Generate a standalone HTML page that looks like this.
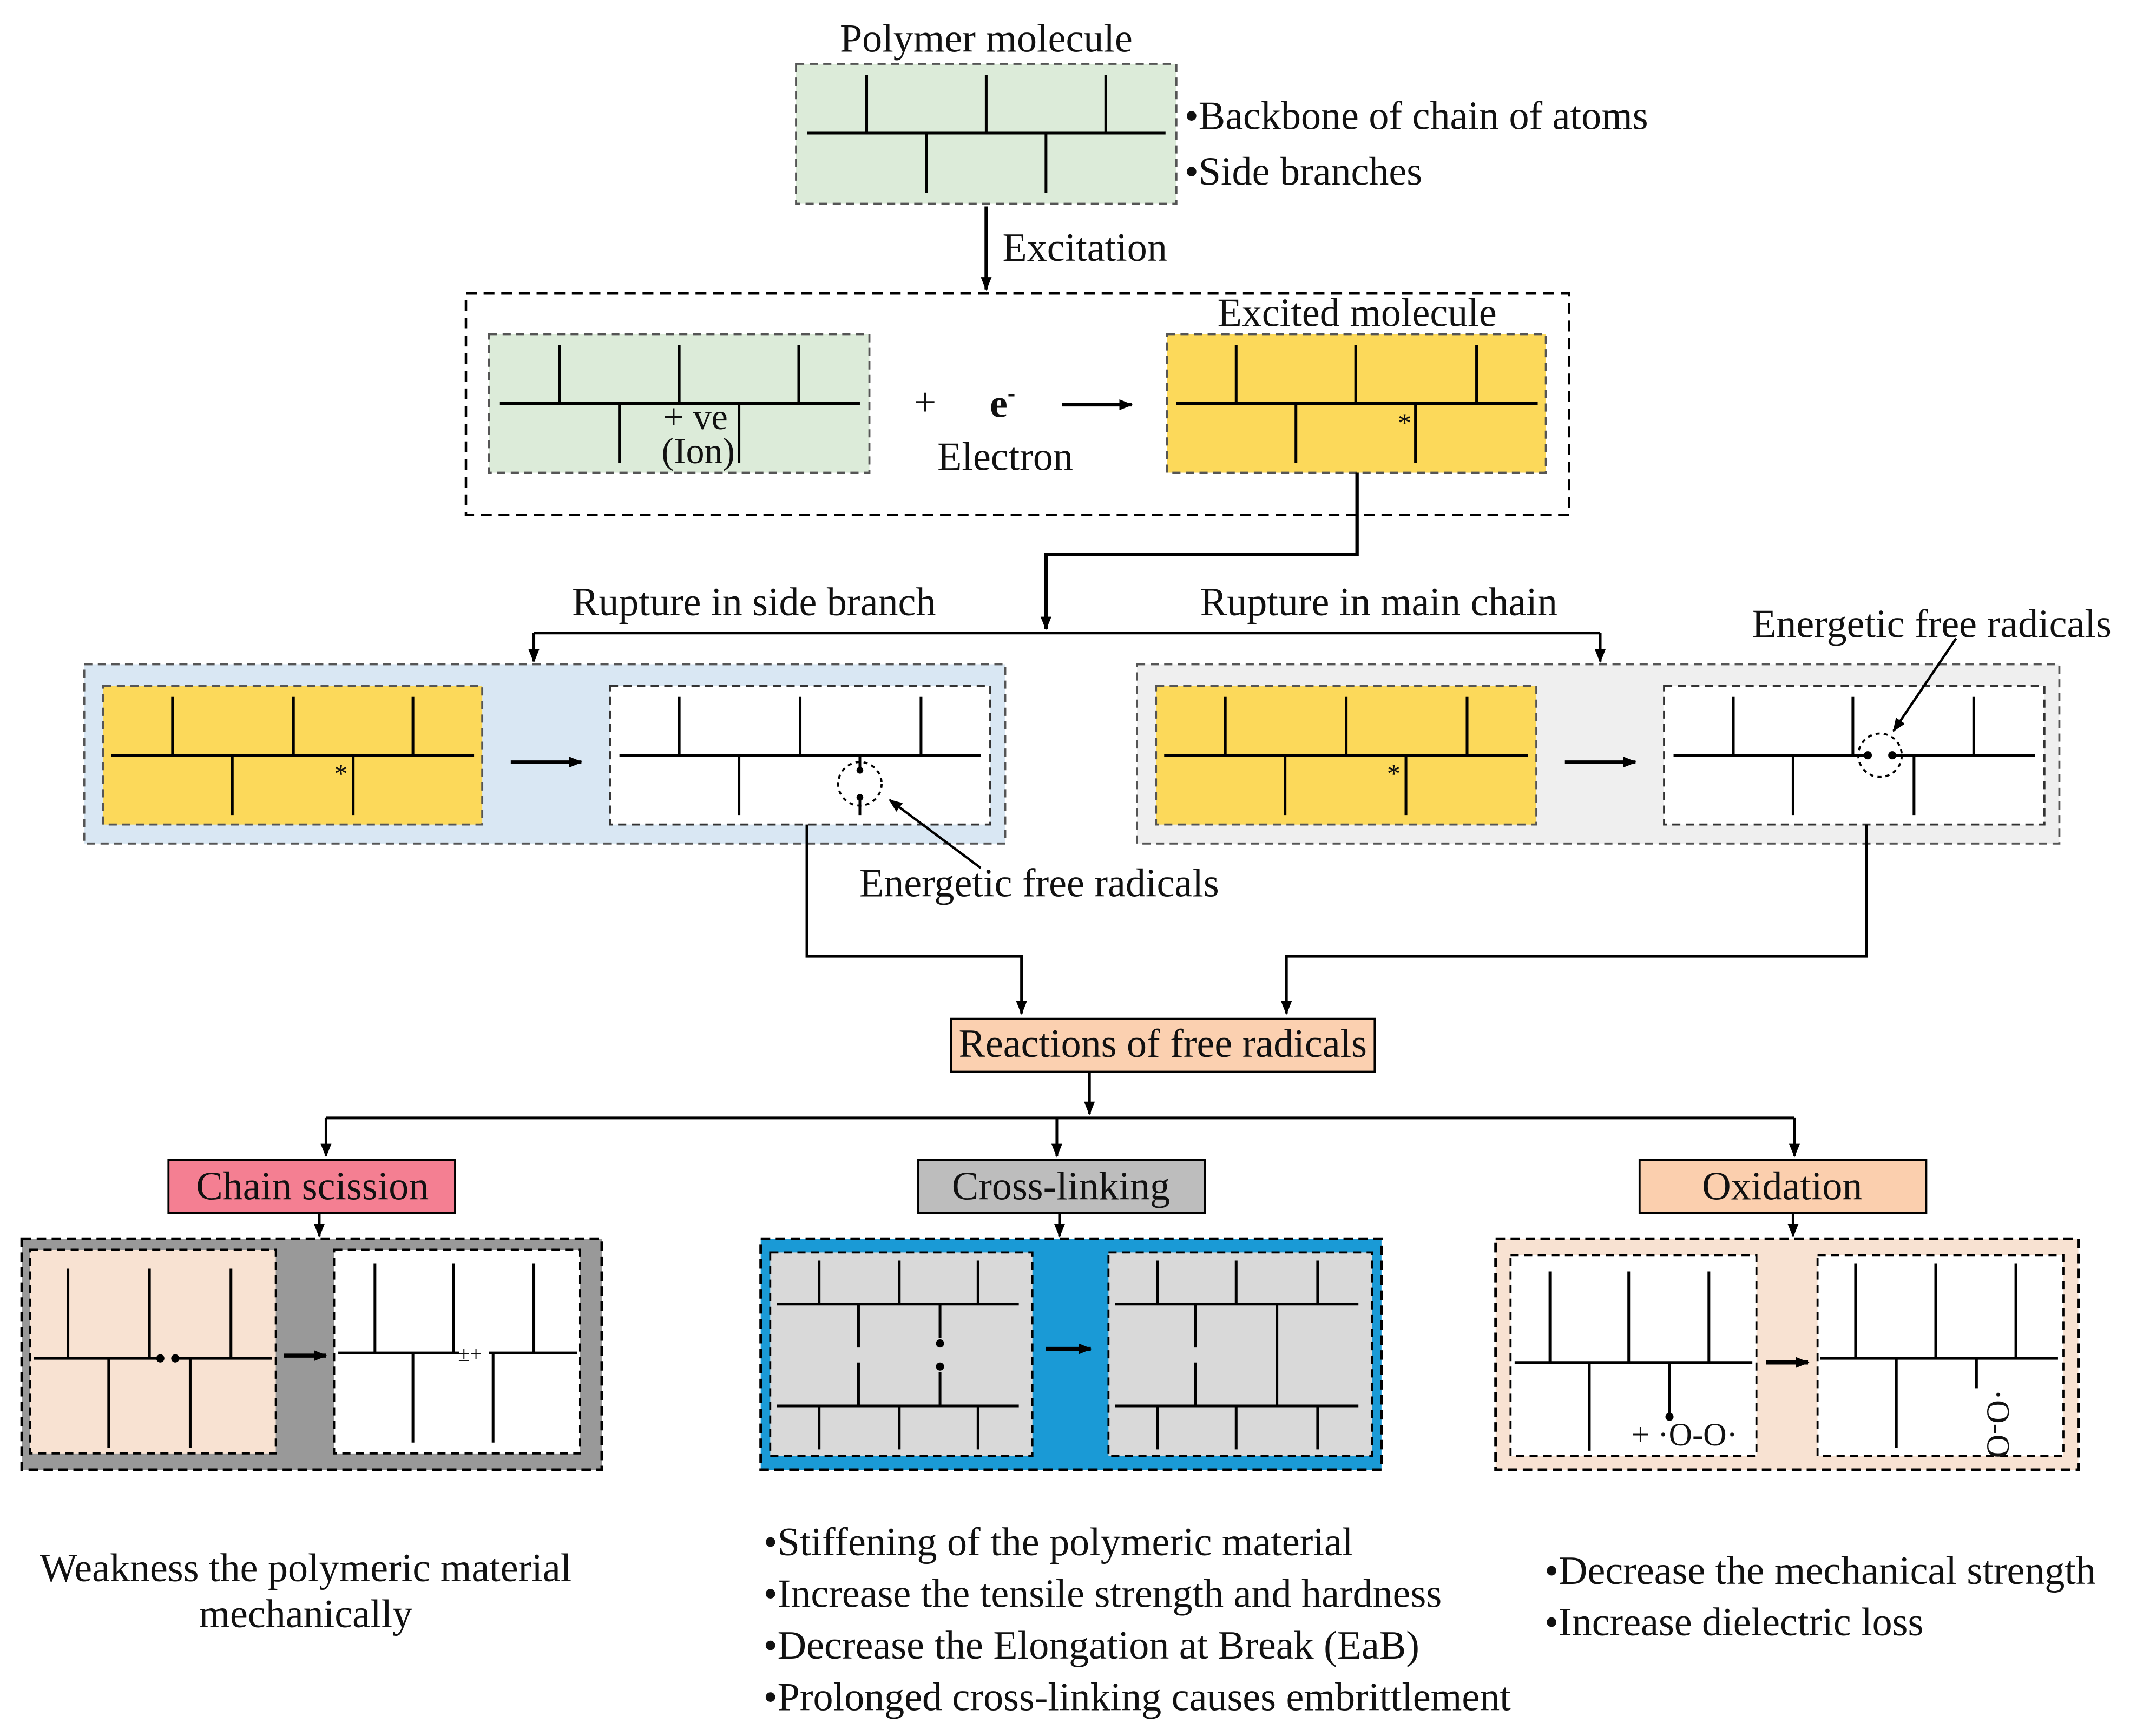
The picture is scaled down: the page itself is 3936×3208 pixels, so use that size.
<!DOCTYPE html>
<html><head><meta charset="utf-8"><style>
html,body{margin:0;padding:0;background:#fff}
svg{display:block}
text{font-family:"Liberation Serif",serif;fill:#111}
</style></head><body>
<svg width="3936" height="3208" viewBox="0 0 1568 1278" xmlns="http://www.w3.org/2000/svg">
<defs>
<marker id="ah" markerWidth="10" markerHeight="10" refX="9" refY="5" orient="auto" markerUnits="userSpaceOnUse">
<path d="M0,1 L10,5 L0,9 Z" fill="#000"/></marker>
</defs>
<rect width="1568" height="1278" fill="#fff"/>
<g stroke="#000" stroke-width="2" fill="none">
<rect x="586" y="47" width="280" height="103" fill="#dcebd9" stroke="#555" stroke-dasharray="6,4" stroke-width="1.5"/>
<path d="M594 98H858 M638 55V98 M726 55V98 M814 55V98 M682 98V142 M770 98V142"/>
<line x1="726" y1="152" x2="726" y2="213" marker-end="url(#ah)" stroke-width="2.5"/>
<rect x="343" y="216" width="812" height="163" stroke-dasharray="8,5" stroke-width="1.8"/>
<rect x="360" y="246" width="280" height="102" fill="#dcebd9" stroke="#555" stroke-dasharray="6,4" stroke-width="1.5"/>
<path d="M368 297H633 M412 254V297 M500 254V297 M588 254V297 M456 297V341 M544 297V341"/>
<line x1="782" y1="298" x2="833" y2="298" marker-end="url(#ah)" stroke-width="2.5"/>
<rect x="859" y="246" width="279" height="102" fill="#fcd95a" stroke="#555" stroke-dasharray="6,4" stroke-width="1.5"/>
<path d="M866 297H1132 M910 254V297 M998 254V297 M1087 254V297 M954 297V341 M1042 297V341"/>
<path d="M999 348V408H770V463" marker-end="url(#ah)" stroke-width="2.5"/>
<path d="M393 466H1178"/>
<line x1="393" y1="466" x2="393" y2="487" marker-end="url(#ah)"/>
<line x1="1178" y1="466" x2="1178" y2="487" marker-end="url(#ah)"/>
<rect x="62" y="489" width="678" height="132" fill="#d9e7f3" stroke="#555" stroke-dasharray="6,4" stroke-width="1.5"/>
<rect x="76" y="505" width="279" height="102" fill="#fcd95a" stroke="#555" stroke-dasharray="6,4" stroke-width="1.5"/>
<path d="M82 556H349 M127 513V556 M216 513V556 M304 513V556 M171 556V600 M260 556V600"/>
<line x1="376" y1="561" x2="428" y2="561" marker-end="url(#ah)" stroke-width="2.5"/>
<rect x="449" y="505" width="280" height="102" fill="#fff" stroke="#333" stroke-dasharray="6,4" stroke-width="1.5"/>
<path d="M456 556H722 M500 513V556 M589 513V556 M678 513V556 M544 556V600 M633 556V567 M633 587V600"/>
<circle cx="633" cy="577" r="16" stroke-dasharray="3,3" stroke-width="1.5"/>
<line x1="722" y1="639" x2="655" y2="589" marker-end="url(#ah)" stroke-width="1.8"/>
<rect x="837" y="489" width="679" height="132" fill="#efefef" stroke="#555" stroke-dasharray="6,4" stroke-width="1.5"/>
<rect x="851" y="505" width="280" height="102" fill="#fcd95a" stroke="#555" stroke-dasharray="6,4" stroke-width="1.5"/>
<path d="M857 556H1125 M902 513V556 M991 513V556 M1080 513V556 M946 556V600 M1035 556V600"/>
<line x1="1152" y1="561" x2="1204" y2="561" marker-end="url(#ah)" stroke-width="2.5"/>
<rect x="1225" y="505" width="280" height="102" fill="#fff" stroke="#333" stroke-dasharray="6,4" stroke-width="1.5"/>
<path d="M1232 556H1375 M1393 556H1498 M1276 513V556 M1364 513V556 M1453 513V556 M1320 556V600 M1409 556V600"/>
<circle cx="1384" cy="556" r="16" stroke-dasharray="3,3" stroke-width="1.5"/>
<line x1="1440" y1="470" x2="1394" y2="538" marker-end="url(#ah)" stroke-width="1.8"/>
<path d="M594 607V704H752V746" marker-end="url(#ah)"/>
<path d="M1374 607V704H947V746" marker-end="url(#ah)"/>
<rect x="700" y="750" width="312" height="39" fill="#fbd0b0" stroke-width="1.5"/>
<line x1="802" y1="789" x2="802" y2="820" marker-end="url(#ah)"/>
<path d="M240 823H1321"/>
<line x1="240" y1="823" x2="240" y2="851" marker-end="url(#ah)"/>
<line x1="778" y1="823" x2="778" y2="851" marker-end="url(#ah)"/>
<line x1="1321" y1="823" x2="1321" y2="851" marker-end="url(#ah)"/>
<rect x="124" y="854" width="211" height="39" fill="#f47f92" stroke-width="1.5"/>
<rect x="676" y="854" width="211" height="39" fill="#bdbdbd" stroke-width="1.5"/>
<rect x="1207" y="854" width="211" height="39" fill="#fbcfae" stroke-width="1.5"/>
<line x1="235" y1="893" x2="235" y2="910" marker-end="url(#ah)"/>
<line x1="780" y1="893" x2="780" y2="910" marker-end="url(#ah)"/>
<line x1="1320" y1="893" x2="1320" y2="910" marker-end="url(#ah)"/>
<rect x="16" y="912" width="427" height="170" fill="#999" stroke-dasharray="7,4" stroke-width="2"/>
<rect x="22" y="920" width="181" height="150" fill="#f8e2d2" stroke-dasharray="6,4" stroke-width="1.5"/>
<rect x="246" y="920" width="181" height="150" fill="#fff" stroke-dasharray="6,4" stroke-width="1.5"/>
<path d="M25 1000H117 M130 1000H200 M50 934V1000 M110 934V1000 M170 934V1000 M80 1000V1066 M140 1000V1066"/>
<line x1="209" y1="998" x2="240" y2="998" marker-end="url(#ah)" stroke-width="3"/>
<path d="M249 996H338 M360 996H425 M276 930V996 M334 930V996 M393 930V996 M304 996V1062 M363 996V1062"/>
<rect x="560" y="912" width="457" height="170" fill="#1a9ad6" stroke-dasharray="7,4" stroke-width="2"/>
<rect x="567" y="922" width="193" height="150" fill="#d9d9d9" stroke-dasharray="6,4" stroke-width="1.5"/>
<rect x="816" y="922" width="194" height="150" fill="#d9d9d9" stroke-dasharray="6,4" stroke-width="1.5"/>
<path d="M572 960H750 M603 928V960 M662 928V960 M720 928V960 M632 960V992 M692 960V985 M572 1035H750 M632 1003V1035 M692 1010V1035 M603 1035V1067 M662 1035V1067 M720 1035V1067"/>
<line x1="770" y1="993" x2="803" y2="993" marker-end="url(#ah)" stroke-width="3"/>
<path d="M821 960H1000 M852 928V960 M910 928V960 M970 928V960 M880 960V992 M940 960V1035 M821 1035H1000 M880 1003V1035 M852 1035V1067 M910 1035V1067 M970 1035V1067"/>
<rect x="1101" y="912" width="429" height="170" fill="#f8e2d2" stroke-dasharray="7,4" stroke-width="2"/>
<rect x="1112" y="924" width="181" height="148" fill="#fff" stroke-dasharray="6,4" stroke-width="1.5"/>
<rect x="1338" y="924" width="181" height="148" fill="#fff" stroke-dasharray="6,4" stroke-width="1.5"/>
<path d="M1115 1003H1290 M1141 936V1003 M1199 936V1003 M1258 936V1003 M1170 1003V1068 M1229 1003V1043"/>
<line x1="1300" y1="1003" x2="1331" y2="1003" marker-end="url(#ah)" stroke-width="3"/>
<path d="M1340 1000H1515 M1366 930V1000 M1425 930V1000 M1484 930V1000 M1396 1000V1066 M1455 1000V1022"/>
</g>
<g fill="#000">
<circle cx="633" cy="567" r="2.5"/><circle cx="633" cy="587" r="2.5"/>
<circle cx="1375" cy="556" r="3"/><circle cx="1393" cy="556" r="3"/>
<circle cx="118" cy="1000" r="3"/><circle cx="129" cy="1000" r="3"/>
<circle cx="692" cy="989" r="3"/><circle cx="692" cy="1006" r="3"/>
<circle cx="1229" cy="1043" r="3"/>
</g>
<g font-size="29.5">
<text x="726" y="38" text-anchor="middle">Polymer molecule</text>
<text x="872" y="95">•Backbone of chain of atoms</text>
<text x="872" y="136">•Side branches</text>
<text x="738" y="192">Excitation</text>
<text x="512" y="316" text-anchor="middle" font-size="27">+ ve</text>
<text x="514" y="341" text-anchor="middle" font-size="27">(Ion)</text>
<text x="681" y="306" text-anchor="middle">+</text>
<text x="738" y="307" text-anchor="middle" font-weight="bold">e<tspan font-size="17" dy="-12">-</tspan></text>
<text x="740" y="346" text-anchor="middle">Electron</text>
<text x="999" y="240" text-anchor="middle">Excited molecule</text>
<text x="1034" y="318" text-anchor="middle" font-size="20">*</text>
<text x="555" y="453" text-anchor="middle">Rupture in side branch</text>
<text x="1015" y="453" text-anchor="middle">Rupture in main chain</text>
<text x="251" y="576" text-anchor="middle" font-size="20">*</text>
<text x="1026" y="576" text-anchor="middle" font-size="20">*</text>
<text x="765" y="660" text-anchor="middle">Energetic free radicals</text>
<text x="1422" y="469" text-anchor="middle">Energetic free radicals</text>
<text x="856" y="778" text-anchor="middle">Reactions of free radicals</text>
<text x="230" y="883" text-anchor="middle">Chain scission</text>
<text x="781" y="883" text-anchor="middle">Cross-linking</text>
<text x="1312" y="883" text-anchor="middle">Oxidation</text>
<text x="346" y="1002" text-anchor="middle" font-size="16">±+</text>
<text x="1240" y="1064" text-anchor="middle" font-size="24">+ ·O-O·</text>
<text x="0" y="0" font-size="24" transform="translate(1463,1048) rotate(90)" text-anchor="middle">·O-O</text>
<text x="225" y="1164" text-anchor="middle">Weakness the polymeric material</text>
<text x="225" y="1198" text-anchor="middle">mechanically</text>
<text x="562" y="1145">•Stiffening of the polymeric material</text>
<text x="562" y="1183">•Increase the tensile strength and hardness</text>
<text x="562" y="1221">•Decrease the Elongation at Break (EaB)</text>
<text x="562" y="1259">•Prolonged cross-linking causes embrittlement</text>
<text x="1137" y="1166">•Decrease the mechanical strength</text>
<text x="1137" y="1204">•Increase dielectric loss</text>
</g>
</svg>
</body></html>
